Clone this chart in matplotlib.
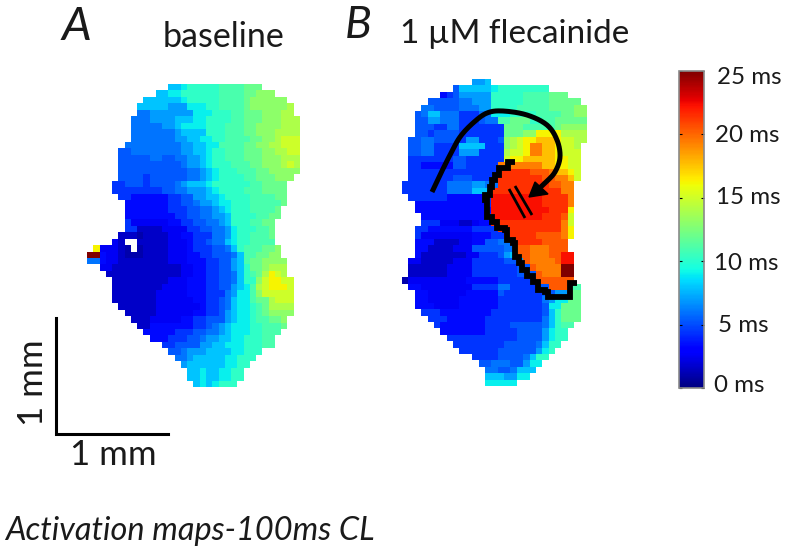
import numpy as np
import matplotlib
matplotlib.use("Agg")
import matplotlib.pyplot as plt
from matplotlib.cm import ScalarMappable
from matplotlib.colors import Normalize

# one character per map cell, '.' = no data
CODES = "0123456789abcdefghijklp"
LEVELS_MS = [1.0,1.6,2.6,3.4,4.4,5.3,6,7,8,9,10.2,11,12,13,14,15,16.3,17.6,19.4,20.4,21.4,22.3,25]
baseline_rows = [
"..... ..... ... 88 9 aaaaa bbbb ccc",
"..... ..... . 88 99 aaaaaa bbbb cc ddd",
"..... .... 888888 9 aaaaa bbbb c dddddd",
"..... ... 88888 777 999 aa bbbb c ddddd d e",
"..... ... 66 7777777 999 aaa bb ccc ddd ee",
"..... .. 666 7777 888 99 aaaa bb ccc ddd eee",
"..... .. 66666 77 8 9999 aaa bbb cc dddd eee",
"..... .. 6666666 7 8888 aaa bbb cc ddd eeee",
"..... .. 6666666 77 88 99 aa bbbb cc dd e fff",
"..... . 666666666 77 88 99 bbbb cc dd ee fff",
"..... 55 66666666 77 88 9 aa bbb ccc dd ee ff",
"..... 55555 66 55 66 77 8 9 aa bbb ccc ddd eee",
"..... 555555 5555 6 77 8 9 aaa bbb cc ddd efe",
"..... 55555555555 66 7 8 9 aaa bbb cc dd ddd",
"..... 5555 4 555555 66 7 8 9 aaaa bb ccc ddd",
".... 44 555 4 5555 6 7 888 9 aaaaaa bb cccc",
".... 4444 4444 55 66 777 8 9 aaaa bbb cccc",
"..... 44 333333 44 55 77 88 9 aaaa bbbb cc",
"..... . 3333333 44 55 6 77 8 99 aaa bbbbb c",
"..... . 3333333 444 55 66 7 8 9 aaa bbbb c",
"..... . 33333333 44 55 66 77 8 aaaa bb cc",
"..... . 4 222222 33 44 55 66 7 8 aaa bb cc",
"..... . 44 1111 2222 44 55 6 6 7 9 aaa bb c",
"..... 111 0 1111 22 33 44 4 66 7 9 aa bbb c",
".... 2 1 .. 11111 222 3 44 5 66 8 9 aa bbb b",
".g 222 1 0 . 0 1111 222 3 444 55 6 8 a bbb cc d",
"pp 322 1 000 1111 222 33 44 55 5 6 8 bb cc dd",
"66 322 11111111 22 2 333 44 55 7 8 b cc dd dd",
".. 22 111111111 11 22 33 44 55 7 8 a cc d eee",
"... 1111111111 11 22 33 44 55 6 8 a b c e g f e",
".... 111111111 222 333 44 55 6 8 aa d f gg f f",
".... 11111111 2222 333 44 55 7 8 9 b e f ggg f",
".... 1111111 22222 333 44 4 6 7 99 b d ff fff",
".... 1111111 222222 33 44 5 6 8 99 b cc e fff",
"..... 111111 2222222 3 4 4 5 6 8 99 a b c eeee",
"..... . 1111 1 222222 33 44 5 7 8 99 a b c d ddd",
"..... .. 111 22222 33 44 5 55 7 8 99 a bb cc d",
"..... ... 11 3333 333 44 5 6 7 8 999 aa bbb c",
"..... .... 33333 444 55 66 7 8 999 aa bbb",
"..... ..... 333 444 55 6 77 88 99 aaa bb",
"..... ..... .. 44 55 55 77 88 999 aaa bb",
"..... ..... ... 55 6 777 88 88 99 aaa",
"..... ..... .... 66 7 88888 99 aaa",
"..... ..... ..... 7 888888 99 aa",
"..... ..... ..... . 88 9 88 99 aa",
"..... ..... ..... . 88 9 88 99 aa",
"..... ..... ..... .. 8 9 8 9 aaa",
]
flecainide_rows = [
"..... ..... . 7 7 8",
"..... ... 5 8 8888 9 aaaaaaaa",
"..... . 3 4 5 77 777 aaaaa bbbb ccc",
".... 555 55 66 77 7 aaaaa bbbb ccccc",
"... 66 5555 666 77 aaaa bbbbb cccc dd",
".. 5 6 88 666 444 66 999 aaaa bbbb cc dd",
".. 55 77 666 444 5 6 6 bb ccc aa bb ccccc",
".. 55 5 44 66 444 44 4 4 ccc bbb bb c dddd",
".. 55 4 5555 44444 4 4 ccc dd gg g g eeee",
". 55 66 5555 4 77 444 5 d e f gg hhh g ff ee",
". 55 66 4444 8888 44 4 d e f g ii hh g ff e",
". 55 66 4444 777 444 4 e ff g ii hh g fff",
". 4444444 55 44444 4 f gg hh hhh gg f f",
". 44 33333 55 44444 i iii iii hh gg ff",
". 44444 44444 4444 kkk kk jjj i hh g f",
". 4444444 555 4444 k kkkkkk jj ii h f",
"4444444 6666 77 6 6 kkkkkkkk jj ii",
"4444444 6666 888 k kkkkkkkk kk ii",
". 444444 333333 4 llllllll kkkk i",
".. 33333333333 4 llllllll kkk k i",
".. 33333333333 3 lllllllll kkk g",
"... 3333333333 4 llllllll kkk j f",
"... 444 222 11 2 33 kkk kkkkk kkk i f",
".. 44 3333 333 4444 kk kkkkkk kk i g",
".. 4 2222222 2 333 44 kkk kk jjjj i g",
".. 333 1111 22 33 55 66 kk kkk jjjj",
".. 33 1111 222 55555 66 j j iii jjj",
".. 3 1111 111 22 444 5 7 8 jj iii jj ll",
". 22 11 111 222 4 4444 55 7 j iiii j ll",
". 111111 2222 4444444 55 j iiii pp",
". 111111 2222 4444444 55 5 j iii pp",
"0 22 2222222 33333 444 444 jj jjjj",
". 33 22222222 4444 66 4444 55 jjj bb",
".. 33 222222 33333 5 444444 55 77 cc",
".. 33 22222 333333 4444444 6 7 9 9 cc",
".. 333 2222 333333 4444444 5 9 9 ccc",
"... 444 33 333333 44444444 5 8 a ccc",
".... 444 333333 4444 44444 6 8 a ccc",
"..... 4 3333333 4444 55555 6 8 a bb",
"..... . 3333333 44444 5555 7 9 aa",
"..... .. 44444 444444 5555 7 9 aa",
"..... ... 444 44444 55555 6 8 aa",
"..... .... 444444 555555 7 9 a",
"..... ..... . 4444 5555 6 8 aa",
"..... ..... .. 55 666 55 7 99",
"..... ..... ... 66 55 6 888",
"..... ..... ... 8 88 77 99",
"..... ..... ... 99 999",
]
# annotations, in figure pixels
contour_x = [515,508,499,495,492,490,485,487,492,497,505,507,513,515,519,522,527,533,538,545,548,570,577]
contour_y = [162,168,175,180,187,195,200,217,222,228,230,240,243,257,263,270,276,282,290,292,297,283,283]
arc_x = [432,440,450,460,473,487,503,527,547,557,560,555,545,536]
arc_y = [192,175,155,137,123,113,111,115,125,140,157,172,183,191]
arrow_x = [529,535,548]
arrow_y = [197,182,194]
bars = [((509,525),(189,218)), ((515,532),(186,215))]
cbar_ticks = [0,5,10,15,20,25]
cbar_labels = ["0 ms","5 ms","10 ms","15 ms","20 ms","25 ms"]
cbar_label_x = [714,718,714,716,715,717]
cbar_label_y = [386,325,263,198,136,77]

def grid(rows):
    parsed = [r.replace(" ","") for r in rows]
    w = max(map(len,parsed))
    out = np.full((len(parsed),w),np.nan)
    for i,r in enumerate(parsed):
        for j,ch in enumerate(r):
            if ch!=".":
                out[i,j]=LEVELS_MS[CODES.index(ch)]
    return out

def smooth(x,y,n=12):
    p = np.column_stack([x,y]).astype(float)
    p = np.vstack([2*p[0]-p[1],p,2*p[-1]-p[-2]])
    out=[]
    for i in range(1,len(p)-2):
        for t in np.linspace(0,1,n,endpoint=False):
            a,b,c,d=p[i-1],p[i],p[i+1],p[i+2]
            out.append(0.5*(2*b+(c-a)*t+(2*a-5*b+4*c-d)*t**2+(3*b-a-3*c+d)*t**3))
    out.append(p[-2])
    return np.array(out)

plt.rcParams['font.family'] = ['Lato','DejaVu Sans']
fig = plt.figure(figsize=(7.87,5.51),dpi=100)
ax = fig.add_axes([0,0,1,1])
cmap = plt.get_cmap("jet").copy(); cmap.set_bad((1,1,1,0))
ga = grid(baseline_rows); gb = grid(flecainide_rows)
ax.imshow(ga,cmap=cmap,vmin=0,vmax=25,extent=(86.7,86.7+ga.shape[1]*6.24,85+ga.shape[0]*6.43,85),
          interpolation="nearest",aspect="auto")
ax.imshow(gb,cmap=cmap,vmin=0,vmax=25,extent=(401.7,401.7+gb.shape[1]*6.35,80+gb.shape[0]*6.38,80),
          interpolation="nearest",aspect="auto")
ax.set_xlim(0,787); ax.set_ylim(551,0); ax.axis("off")

ax.plot(contour_x,contour_y,color="k",lw=4.2,drawstyle="steps-post",solid_joinstyle="miter",solid_capstyle="butt")
arc = smooth(arc_x,arc_y)
ax.plot(arc[:,0],arc[:,1],color="k",lw=3.6,solid_capstyle="butt")
ax.fill(arrow_x,arrow_y,color="k")
for bx,by in bars:
    ax.plot(bx,by,color="k",lw=2.0,solid_capstyle="butt")
ax.plot([56,56,168],[318,434,434],color="k",lw=2.2,solid_joinstyle="miter")

tc="#1a1a1a"
ax.text(62,40,"A",fontsize=34,style="italic",color=tc)
ax.text(345,38,"B",fontsize=32,style="italic",color=tc)
ax.text(163,47,"baseline",fontsize=24.5,color=tc)
ax.text(400,43,"1 µM flecainide",fontsize=24,color=tc)
ax.text(33,383,"1 mm",fontsize=25,rotation=90,ha="center",va="center",color=tc)
ax.text(70,465,"1 mm",fontsize=25,color=tc)
ax.text(5,540,"Activation maps-100ms CL",fontsize=23.4,style="italic",color=tc)

cax = fig.add_axes([679/787,1-388/551,25/787,317/551])
cb = fig.colorbar(ScalarMappable(Normalize(0,25),"jet"),cax=cax)
cb.set_ticks(cbar_ticks); cb.set_ticklabels([])
cax.tick_params(axis="y",direction="in",length=2,width=0.8,left=True,right=True)
cb.outline.set_edgecolor("#8a8a8a"); cb.outline.set_linewidth(1.2)
for t,x,y in zip(cbar_labels,cbar_label_x,cbar_label_y):
    ax.text(x,y,t,fontsize=17.4,va="center",color=tc)
fig.savefig("out.png",dpi=100)
